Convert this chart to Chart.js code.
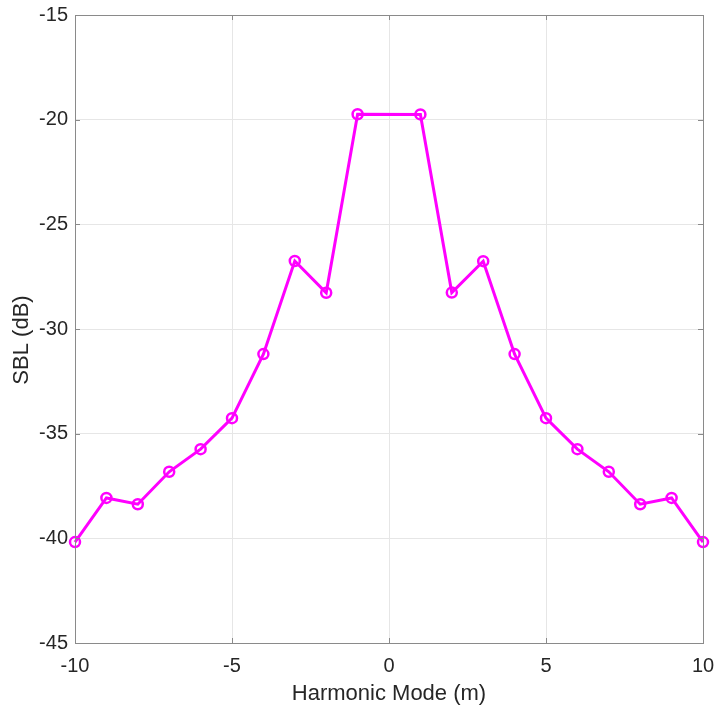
<!DOCTYPE html>
<html>
<head>
<meta charset="utf-8">
<script src="https://cdn.jsdelivr.net/npm/chart.js@4"></script>
<style>
  html, body { margin: 0; padding: 0; background: #fff; }
  #wrap { width: 715px; height: 710px; }
</style>
</head>
<body>
<div id="wrap"><canvas id="sblChart" width="715" height="710"></canvas></div>
<script>
// --- DATA ---
const modes = [-10, -9, -8, -7, -6, -5, -4, -3, -2, -1, 1, 2, 3, 4, 5, 6, 7, 8, 9, 10];
const sblValues = [-40.18, -38.07, -38.37, -36.82, -35.74, -34.26, -31.2, -26.75, -28.27, -19.74,
                   -19.75, -28.26, -26.76, -31.2, -34.26, -35.74, -36.82, -38.37, -38.07, -40.18];
const xTicks = [-10, -5, 0, 5, 10];
const yTicks = [-45, -40, -35, -30, -25, -20, -15];
const yTitle = 'SBL (dB)';

const textColor = '#262626';
const fontFamily = '"Liberation Sans", Arial, Helvetica, sans-serif';

// box around the plot + inward tick marks (MATLAB style) + y label
const boxPlugin = {
    id: 'boxPlugin',
    afterDraw(chart) {
        const { ctx, chartArea: a, scales } = chart;
        const len = 5;
        ctx.save();
        ctx.strokeStyle = '#8a8a8a';
        ctx.lineWidth = 1;
        ctx.strokeRect(a.left + 0.5, a.top + 0.5, a.right - a.left, a.bottom - a.top);
        ctx.beginPath();
        xTicks.forEach(v => {
            const px = Math.round(scales.x.getPixelForValue(v)) + 0.5;
            ctx.moveTo(px, a.bottom); ctx.lineTo(px, a.bottom - len);
            ctx.moveTo(px, a.top); ctx.lineTo(px, a.top + len);
        });
        yTicks.forEach(v => {
            const py = Math.round(scales.y.getPixelForValue(v)) + 0.5;
            ctx.moveTo(a.left, py); ctx.lineTo(a.left + len, py);
            ctx.moveTo(a.right, py); ctx.lineTo(a.right - len, py);
        });
        ctx.stroke();

        // y axis title, sits a little below the middle like the original
        ctx.translate(22, (a.top + a.bottom) / 2 + 11);
        ctx.rotate(-Math.PI / 2);
        ctx.fillStyle = textColor;
        ctx.font = '22px ' + fontFamily;
        ctx.textAlign = 'center';
        ctx.textBaseline = 'middle';
        ctx.fillText(yTitle, 0, 0);
        ctx.restore();
    }
};

const points = modes.map((m, i) => ({ x: m, y: sblValues[i] }));

new Chart(document.getElementById('sblChart').getContext('2d'), {
    type: 'line',
    data: {
        datasets: [{
            data: points,
            borderColor: '#ff00ff',
            borderWidth: 3,
            pointRadius: 5,
            pointBorderWidth: 2.5,
            pointBorderColor: '#ff00ff',
            pointBackgroundColor: 'rgba(255,255,255,0)',
            tension: 0,
            clip: false
        }]
    },
    options: {
        responsive: false,
        animation: false,
        events: [],
        layout: { padding: { top: 15, right: 12, left: 0, bottom: 0 } },
        plugins: { legend: { display: false }, tooltip: { enabled: false } },
        scales: {
            x: {
                type: 'linear',
                min: -10, max: 10,
                afterBuildTicks: s => { s.ticks = xTicks.map(v => ({ value: v })); },
                afterFit: s => { s.height = 67; s.paddingLeft = 0; s.paddingRight = 0; },
                grid: { color: '#e6e6e6', lineWidth: 1, drawTicks: false },
                border: { display: false },
                ticks: { color: textColor, padding: 11, font: { family: fontFamily, size: 20 } },
                title: {
                    display: true, text: 'Harmonic Mode (m)', color: textColor,
                    font: { family: fontFamily, size: 22 }, padding: { top: 0, bottom: 3 }
                }
            },
            y: {
                type: 'linear',
                min: -45, max: -15,
                afterBuildTicks: s => { s.ticks = yTicks.map(v => ({ value: v })); },
                afterFit: s => { s.width = 75; s.paddingTop = 0; s.paddingBottom = 0; },
                grid: { color: '#e6e6e6', lineWidth: 1, drawTicks: false },
                border: { display: false },
                ticks: { color: textColor, padding: 7, font: { family: fontFamily, size: 20 } }
            }
        }
    },
    plugins: [boxPlugin]
});
</script>
</body>
</html>
